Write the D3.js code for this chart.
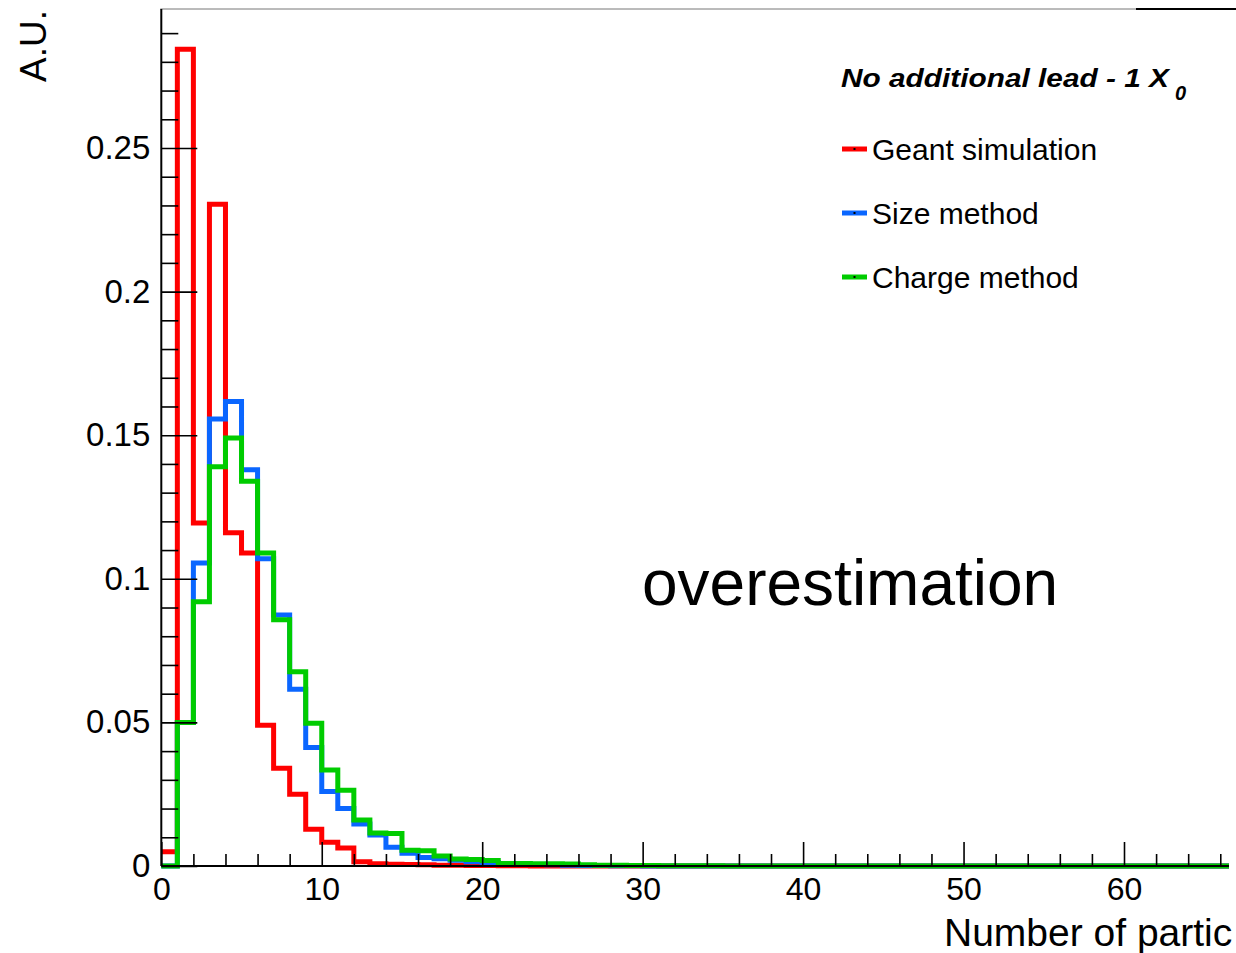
<!DOCTYPE html>
<html>
<head>
<meta charset="utf-8">
<script src="https://cdn.jsdelivr.net/npm/d3@7"></script>
<style>
  html, body { margin: 0; padding: 0; background: #fff; }
  svg { display: block; font-family: "Liberation Sans", Arial, Helvetica, sans-serif; }
</style>
</head>
<body>
<svg id="chart" width="1236" height="953"></svg>
<script>
// Bin contents (unit-width bins starting at 0), normalised to unit area
const geantSimulation = [
  0.005, 0.2844, 0.1194, 0.2304, 0.116, 0.109, 0.049, 0.034, 0.025, 0.0128,
  0.0083, 0.0063, 0.0015, 0.0008, 0.0006, 0.0005, 0.0004, 0.0003, 0.0003, 0.0002,
  0.0002, 0.0001, 0.0001, 0, 0, 0, 0, 0, 0, 0,
  0, 0, 0, 0, 0, 0, 0, 0, 0, 0,
  0, 0, 0, 0, 0, 0, 0, 0, 0, 0,
  0, 0, 0, 0, 0, 0, 0, 0, 0, 0,
  0, 0, 0, 0, 0, 0, 0
];
const sizeMethod = [
  0, 0.050, 0.1055, 0.1556, 0.1617, 0.138, 0.107, 0.0874, 0.0615, 0.0413,
  0.0259, 0.020, 0.0146, 0.0108, 0.0065, 0.0044, 0.0030, 0.0025, 0.0020, 0.0015,
  0.0012, 0.0009, 0.0007, 0.0005, 0.0004, 0.0003, 0.0002, 0.0002, 0.0001, 0.0001,
  0, 0, 0, 0, 0, 0, 0, 0, 0, 0,
  0, 0, 0, 0, 0, 0, 0, 0, 0, 0,
  0, 0, 0, 0, 0, 0, 0, 0, 0, 0,
  0, 0, 0, 0, 0, 0, 0
];
const chargeMethod = [
  0, 0.050, 0.092, 0.139, 0.149, 0.134, 0.109, 0.0857, 0.0676, 0.0497,
  0.0334, 0.0264, 0.016, 0.0115, 0.0113, 0.0055, 0.0053, 0.0035, 0.0024, 0.0023,
  0.0019, 0.0009, 0.0009, 0.0008, 0.0008, 0.0007, 0.0004, 0.0003, 0.0003, 0.0002,
  0.0002, 0.0001, 0.0001, 0.0001, 0.0001, 0, 0, 0, 0, 0,
  0, 0, 0, 0, 0, 0, 0, 0, 0, 0,
  0, 0, 0, 0, 0, 0, 0, 0, 0, 0,
  0, 0, 0, 0, 0, 0, 0
];

const seriesNames = ["Geant simulation", "Size method", "Charge method"];
const seriesColors = ["#ff0000", "#0a66ff", "#00cc00"];

const xMajorTicks = [0, 10, 20, 30, 40, 50, 60];
const xMinorTicks = d3.range(0, 67, 2).filter(v => v % 10 !== 0);
const yMajorTicks = [0, 0.05, 0.1, 0.15, 0.2, 0.25];
const yTickLabels = ["0", "0.05", "0.1", "0.15", "0.2", "0.25"];
const yMinorTicks = d3.range(1, 30).map(i => i / 100).filter(v => Math.round(v * 100) % 5 !== 0);

const xTitle = "Number of partic";
const yTitle = "A.U.";
const legendTitle = "No additional lead - 1 X";
const annotation = "overestimation";

(function draw() {
  const svg = d3.select("#chart");

  // Frame geometry
  const frameLeft = 161.3, frameBottom = 866, frameTop = 9, clipRight = 1229;

  const x = d3.scaleLinear().domain([0, 60]).range([frameLeft, 1124]);
  const y = d3.scaleLinear().domain([0, 0.25]).range([frameBottom, 148]);

  svg.append("defs").append("clipPath").attr("id", "plotClip")
    .append("rect").attr("x", 0).attr("y", 0).attr("width", clipRight).attr("height", 953);

  const g = svg.append("g").attr("clip-path", "url(#plotClip)");

  // Top frame edge
  svg.append("line").attr("x1", frameLeft - 1).attr("x2", 1136).attr("y1", frameTop).attr("y2", frameTop)
    .attr("stroke", "#777").attr("stroke-width", 1);
  svg.append("line").attr("x1", 1136).attr("x2", 1236).attr("y1", frameTop).attr("y2", frameTop)
    .attr("stroke", "#000").attr("stroke-width", 2);

  // Histograms as step outlines
  function stepPath(values) {
    const pts = values.map((v, i) => [i, v]);
    pts.push([values.length, values[values.length - 1]]);
    return d3.line().x(d => x(d[0])).y(d => y(d[1])).curve(d3.curveStepAfter)(pts);
  }
  [geantSimulation, sizeMethod, chargeMethod].forEach((vals, k) => {
    g.append("path")
      .attr("d", stepPath(vals))
      .attr("fill", "none")
      .attr("stroke", seriesColors[k])
      .attr("stroke-width", 5)
      .attr("stroke-linejoin", "miter")
      .attr("stroke-linecap", "butt");
  });

  // X axis: major and minor ticks pointing into the frame
  const xAxisMajor = d3.axisBottom(x).tickValues(xMajorTicks).tickFormat(d3.format("d"))
    .tickSizeInner(-24).tickSizeOuter(0).tickPadding(11);
  const xAxisMinor = d3.axisBottom(x).tickValues(xMinorTicks).tickFormat("")
    .tickSizeInner(-12).tickSizeOuter(0);

  const gxMinor = g.append("g").attr("transform", `translate(0,${frameBottom})`).call(xAxisMinor);
  gxMinor.select(".domain").remove();
  const gx = g.append("g").attr("transform", `translate(0,${frameBottom})`).call(xAxisMajor);
  gx.select(".domain").attr("d", `M${frameLeft},0H${clipRight + 5}`).attr("stroke-width", 2);
  gx.selectAll(".tick line").attr("stroke-width", 1.6);
  gxMinor.selectAll(".tick line").attr("stroke-width", 1.6);
  gx.selectAll(".tick text").attr("font-size", 32).attr("fill", "#000")
    .attr("font-family", "Liberation Sans, Arial, sans-serif");

  // Y axis
  const yAxisMajor = d3.axisLeft(y).tickValues(yMajorTicks)
    .tickFormat((d, i) => yTickLabels[i])
    .tickSizeInner(-36).tickSizeOuter(0).tickPadding(11);
  const yAxisMinor = d3.axisLeft(y).tickValues(yMinorTicks).tickFormat("")
    .tickSizeInner(-17).tickSizeOuter(0);

  const gyMinor = svg.append("g").attr("transform", `translate(${frameLeft},0)`).call(yAxisMinor);
  gyMinor.select(".domain").remove();
  const gy = svg.append("g").attr("transform", `translate(${frameLeft},0)`).call(yAxisMajor);
  gy.select(".domain").attr("d", `M0,${frameTop}V${frameBottom}`).attr("stroke-width", 2);
  gy.selectAll(".tick line").attr("stroke-width", 1.6);
  gyMinor.selectAll(".tick line").attr("stroke-width", 1.6);
  gy.selectAll(".tick text").attr("font-size", 33).attr("fill", "#000")
    .attr("font-family", "Liberation Sans, Arial, sans-serif");

  // Axis titles
  svg.append("text").attr("x", 944).attr("y", 946)
    .attr("font-size", 39).attr("fill", "#000").text(xTitle);
  svg.append("text").attr("transform", "translate(46,10) rotate(-90)")
    .attr("text-anchor", "end").attr("font-size", 37).attr("fill", "#000").text(yTitle);

  // Legend
  const legend = svg.append("g");
  const lt = legend.append("text").attr("x", 841).attr("y", 87)
    .attr("font-size", 26).attr("font-weight", "bold").attr("font-style", "italic")
    .attr("fill", "#000");
  lt.append("tspan").attr("textLength", 328).attr("lengthAdjust", "spacingAndGlyphs").text(legendTitle);
  lt.append("tspan").attr("x", 1175).attr("y", 100).attr("font-size", 20).text("0");

  const legendY = [149, 213, 277];
  seriesNames.forEach((name, k) => {
    const yy = legendY[k];
    legend.append("line").attr("x1", 842).attr("x2", 867).attr("y1", yy).attr("y2", yy)
      .attr("stroke", seriesColors[k]).attr("stroke-width", 5);
    legend.append("rect").attr("x", 853.5).attr("y", yy - 1).attr("width", 2).attr("height", 2)
      .attr("fill", "#000");
    legend.append("text").attr("x", 872).attr("y", yy).attr("dy", "0.36em")
      .attr("font-size", 30).attr("fill", "#000").text(name);
  });

  // Annotation
  svg.append("text").attr("x", 642).attr("y", 605)
    .attr("font-size", 64).attr("fill", "#000").text(annotation);
})();
</script>
</body>
</html>
